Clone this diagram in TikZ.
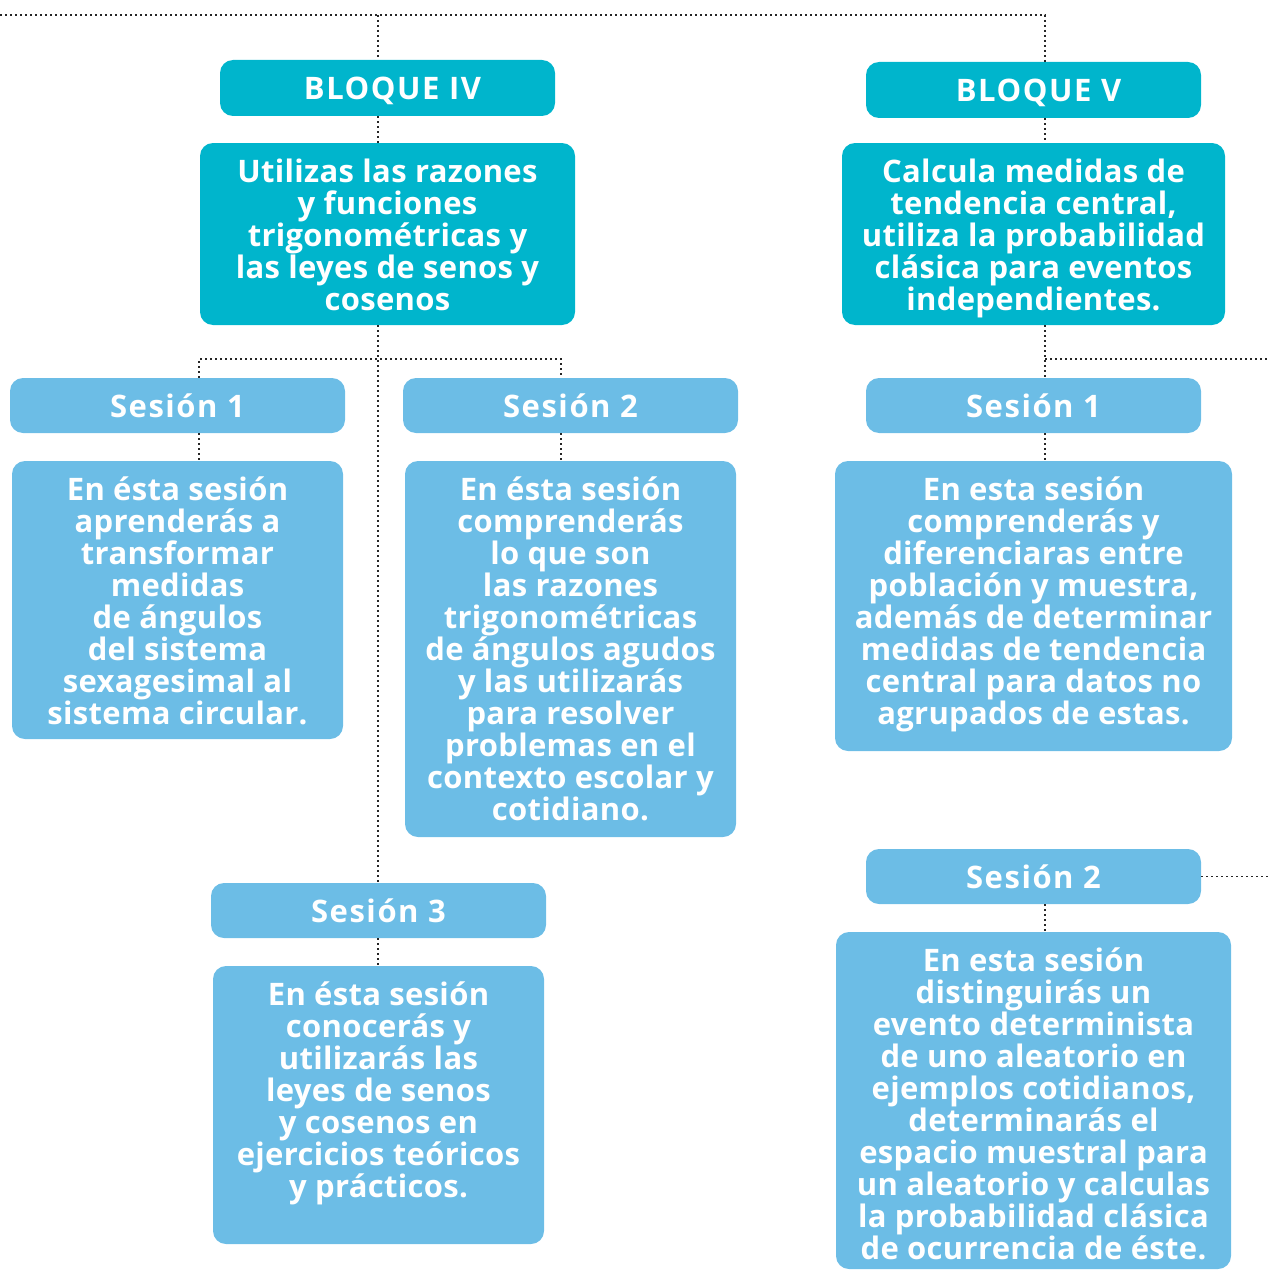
\documentclass[tikz,border=0pt]{standalone}
\usepackage{fontspec}
\setmainfont{Open Sans}[LetterSpace=1]
\newfontfamily\titulofont{Open Sans}[LetterSpace=5]
\definecolor{turquesa}{RGB}{0,181,204}
\definecolor{celeste}{RGB}{108,189,230}
\begin{document}
\begin{tikzpicture}[x=1pt,y=-1pt,
    caja/.style={rounded corners=13pt,text=white,inner sep=0pt,align=center,
      font=\bfseries\fontsize{31}{32}\selectfont},
    titulo/.style={caja,minimum width=335pt,text height=27.5pt,text depth=4.5pt,
      font=\titulofont\bfseries\fontsize{31}{32}\selectfont},
    bloque/.style={titulo,fill=turquesa,minimum height=56pt,
      execute at begin node={\hspace*{10pt}}},
    sesion/.style={titulo,fill=celeste,minimum height=55pt},
    texto/.style n args={2}{caja,fill=celeste,text height=#1,text depth=#2},
    objetivo/.style={texto={167.5pt}{14.5pt},fill=turquesa},
    enlace/.style={line width=1.7pt,dash pattern=on 1.7pt off 3.3pt,black!85}]
  \useasboundingbox (0,0) rectangle (1269,1271);
  % bloque IV
  \node[bloque] (bloqIV) at (387.5,88) {BLOQUE IV};
  \node[objetivo,minimum width=375pt] (objIV) at (387.5,234)
    {Utilizas las razones\\ y funciones\\ trigonométricas y\\ las leyes de senos y\\ cosenos};
  \node[sesion] (s1) at (177.5,405.5) {Sesión 1};
  \node[texto={263.5pt}{14.5pt},minimum width=331pt] (t1) at (177.5,600)
    {En ésta sesión\\ aprenderás a\\ transformar\\ medidas\\ de ángulos\\ del sistema\\ sexagesimal al\\ sistema circular.};
  \node[sesion] (s2) at (570.5,405.5) {Sesión 2};
  \node[texto={359.5pt}{16.5pt},minimum width=331pt] (t2) at (570.5,649)
    {En ésta sesión\\ comprenderás\\ lo que son\\ las razones\\ trigonométricas\\ de ángulos agudos\\ y las utilizarás\\ para resolver\\ problemas en el\\ contexto escolar y\\ cotidiano.};
  \node[sesion] (s3) at (378.5,910.5) {Sesión 3};
  \node[texto={231.5pt}{46.5pt},minimum width=331pt] (t3) at (378.5,1105)
    {En ésta sesión\\ conocerás y\\ utilizarás las\\ leyes de senos\\ y cosenos en\\ ejercicios teóricos\\ y prácticos.};
  % bloque V
  \node[bloque] (bloqV) at (1033.5,90) {BLOQUE V};
  \node[objetivo,minimum width=383pt] (objV) at (1033.5,234)
    {Calcula medidas de\\ tendencia central,\\ utiliza la probabilidad\\ clásica para eventos\\ independientes.};
  \node[sesion] (r1) at (1033.5,405.5) {Sesión 1};
  \node[texto={263.5pt}{26.5pt},minimum width=397pt] (rt1) at (1033.5,606)
    {En esta sesión\\ comprenderás y\\ diferenciaras entre\\ población y muestra,\\ además de determinar\\ medidas de tendencia\\ central para datos no\\ agrupados de estas.};
  \node[sesion] (r2) at (1033.5,876.5) {Sesión 2};
  \node[texto={327.5pt}{9.5pt},minimum width=395pt] (rt2) at (1033.5,1100.5)
    {En esta sesión\\ distinguirás un\\ evento determinista\\ de uno aleatorio en\\ ejemplos cotidianos,\\ determinarás el\\ espacio muestral para\\ un aleatorio y calculas\\ la probabilidad clásica\\ de ocurrencia de éste.};
  % ejes de los enlaces
  \coordinate (izq) at (0,15);
  \coordinate (ejeIV) at (378,15);
  \coordinate (ejeV) at (1045,15);
  \coordinate (c1) at (199,359);
  \coordinate (c2) at (561,359);
  \coordinate (der) at (1269,359);
  % enlaces
  \draw[enlace] (izq) -- (ejeV) -- (bloqV.north -| ejeV);
  \draw[enlace] (ejeIV) -- (bloqIV.north -| ejeIV);
  \draw[enlace] (bloqIV.south -| ejeIV) -- (objIV.north -| ejeIV);
  \draw[enlace] (objIV.south -| ejeIV) -- (s3.north -| ejeIV);
  \draw[enlace] (s1.north -| c1) -- (c1) -- (c2) -- (s2.north -| c2);
  \draw[enlace] (s1.south -| c1) -- (t1.north -| c1);
  \draw[enlace] (s2.south -| c2) -- (t2.north -| c2);
  \draw[enlace] (s3.south -| ejeIV) -- (t3.north -| ejeIV);
  \draw[enlace] (bloqV.south -| ejeV) -- (objV.north -| ejeV);
  \draw[enlace] (objV.south -| ejeV) -- (r1.north -| ejeV);
  \draw[enlace] (ejeV |- der) -- (der);
  \draw[enlace] (r1.south -| ejeV) -- (rt1.north -| ejeV);
  \draw[enlace] (r2.south -| ejeV) -- (rt2.north -| ejeV);
  \draw[enlace] (r2.east) -- (r2.east -| der);
\end{tikzpicture}
\end{document}
